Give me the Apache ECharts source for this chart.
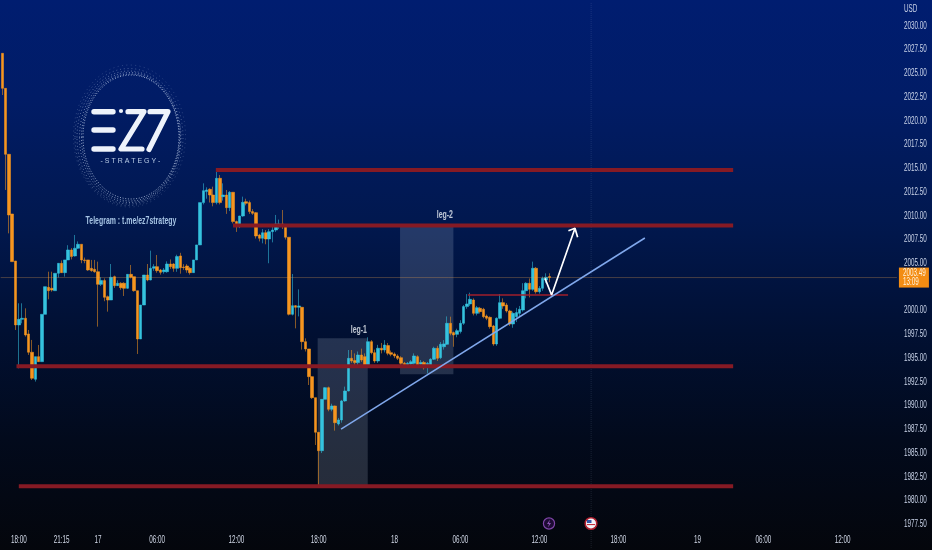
<!DOCTYPE html>
<html><head><meta charset="utf-8">
<style>html,body{margin:0;padding:0;background:#020611}#c{width:932px;height:550px}</style>
<script src="https://cdn.jsdelivr.net/npm/echarts@6/dist/echarts.min.js"></script>
</head><body><div id="c"></div>
<script>
// The reference's labels are horizontally squeezed and no narrow face is installed: condense canvas text.
const rawFillText = CanvasRenderingContext2D.prototype.fillText;
CanvasRenderingContext2D.prototype.fillText = function(t,x,y,m){
  if(String(t).indexOf('S T R')>=0) return rawFillText.call(this,t,x,y,m);
  this.save(); this.translate(x,y); this.scale(0.63,1); rawFillText.call(this,t,0,0); this.restore();
};
// open, close, low, high per 15-minute bar
const candles = [
[2027.12,2023.43,2022.73,2027.12],[2023.43,2016.48,2012.72,2023.43],[2016.48,2010.09,2008.15,2016.48],[2010.19,2005.17,2005.17,2010.19],
[2005.24,1998.50,1997.97,2005.24],[1998.50,1999.09,1993.93,2000.78],[1999.09,1999.20,1998.67,2000.78],[1999.20,1997.44,1997.27,2000.25],
[1997.55,1995.62,1995.34,1997.97],[1995.62,1992.88,1992.70,1996.92],[1992.77,1995.16,1992.53,1995.16],[1995.16,1994.63,1994.63,1996.39],
[1994.63,1999.62,1994.63,1999.62],[1999.62,2002.53,1999.62,2002.53],[2002.46,2002.11,2001.20,2004.11],[2002.36,2002.18,2002.00,2004.11],
[2002.11,2003.94,2002.11,2003.94],[2003.94,2004.99,2003.50,2004.99],[2004.99,2004.01,2004.01,2005.30],[2004.01,2005.35,2003.59,2005.35],
[2005.35,2006.40,2005.35,2006.90],[2006.40,2005.70,2005.40,2006.60],[2005.77,2006.58,2005.70,2007.98],[2006.58,2007.00,2006.50,2007.30],
[2007.00,2005.35,2005.00,2007.00],[2005.35,2005.28,2005.00,2005.60],[2005.35,2004.29,2004.20,2005.35],[2004.46,2004.22,2004.10,2005.35],
[2004.36,2004.11,2004.00,2005.35],[2004.11,2002.78,1998.32,2005.17],[2002.78,2003.17,2002.60,2003.52],[2003.17,2001.41,2001.00,2003.40],
[2001.48,2001.13,1999.90,2001.60],[2001.13,2003.52,2001.13,2004.92],[2003.59,2002.64,2002.40,2003.70],[2002.64,2002.89,2002.60,2003.20],
[2002.89,2002.43,2002.20,2003.00],[2002.89,2002.36,2001.55,2003.00],[2002.36,2003.83,2002.30,2003.83],[2003.83,2003.52,2003.40,2004.82],
[2003.59,2002.11,2002.00,2003.60],[2002.11,1997.02,1995.44,2002.11],[1997.02,2000.60,1997.02,2000.60],[2000.60,2003.76,2000.60,2003.76],
[2003.76,2003.24,2003.10,2004.92],[2003.24,2004.47,2003.20,2006.33],[2004.47,2004.64,2004.20,2004.90],[2004.64,2004.22,2004.00,2005.87],
[2004.29,2004.04,2003.80,2004.40],[2004.11,2004.29,2003.90,2004.50],[2004.11,2004.92,2004.00,2005.20],[2004.92,2004.64,2004.40,2005.40],
[2004.92,2004.46,2004.10,2005.00],[2004.46,2005.70,2004.10,2005.90],[2005.77,2004.53,2003.90,2006.10],[2004.60,2004.55,2004.30,2004.90],
[2004.71,2004.29,2004.00,2004.90],[2004.46,2004.01,2003.80,2004.60],[2004.01,2005.35,2004.00,2005.35],[2005.35,2006.93,2005.35,2006.93],
[2006.93,2011.39,2006.93,2011.39],[2011.39,2012.65,2011.20,2013.42],[2012.55,2012.72,2011.80,2013.00],[2012.79,2012.19,2011.40,2012.90],
[2012.19,2011.39,2011.00,2013.07],[2011.39,2013.95,2011.20,2015.00],[2013.95,2011.39,2011.20,2014.30],[2012.02,2012.19,2011.60,2013.42],
[2012.19,2010.86,2010.20,2012.72],[2010.86,2012.48,2010.50,2012.60],[2012.48,2009.39,2009.20,2012.50],[2009.39,2008.86,2008.30,2009.50],
[2008.86,2009.98,2008.70,2010.00],[2009.98,2011.42,2009.90,2012.02],[2011.49,2011.32,2011.10,2011.80],[2011.39,2010.44,2010.20,2011.60],
[2010.44,2010.26,2010.10,2010.70],[2010.33,2007.87,2007.60,2010.40],[2007.98,2007.63,2007.30,2008.10],[2007.63,2008.22,2007.10,2008.60],
[2008.22,2007.56,2007.00,2008.50],[2007.56,2008.33,2005.00,2008.60],[2008.33,2008.50,2007.20,2009.00],[2008.50,2009.14,2008.30,2010.09],
[2008.96,2009.14,2008.60,2009.60],[2009.14,2008.93,2008.60,2010.61],[2009.03,2007.74,2007.50,2009.10],[2007.74,1999.62,1999.50,2007.74],
[1999.62,2000.53,1999.50,2003.87],[2000.53,2000.36,1998.14,2000.60],[2000.36,2000.50,1999.40,2002.25],[2000.36,1996.74,1995.90,2000.40],
[1996.74,1995.97,1995.70,1997.09],[1995.97,1993.05,1992.17,1995.97],[1993.05,1990.84,1990.70,1993.10],[1990.84,1987.19,1985.85,1990.84],
[1987.19,1985.25,1981.46,1987.19],[1985.25,1990.66,1985.00,1990.66],[1990.66,1991.89,1990.66,1991.95],[1991.89,1989.61,1989.40,1992.00],
[1989.61,1989.96,1989.40,1990.20],[1989.96,1988.20,1987.36,1990.00],[1988.06,1988.49,1987.90,1988.70],[1988.49,1990.49,1988.20,1990.60],
[1990.49,1991.54,1990.40,1992.00],[1991.54,1994.98,1991.50,1995.86],[1994.98,1994.70,1994.50,1995.86],[1994.74,1994.53,1994.30,1995.50],
[1994.53,1995.33,1994.10,1995.70],[1995.33,1994.81,1994.60,1996.00],[1995.16,1994.22,1994.00,1995.50],[1994.22,1996.74,1994.00,1997.20],
[1996.74,1995.58,1995.40,1996.90],[1995.58,1994.70,1994.50,1995.90],[1994.70,1996.04,1994.50,1996.40],[1996.04,1995.86,1995.50,1996.60],
[1995.86,1996.39,1995.60,1996.90],[1996.32,1995.51,1995.30,1996.60],[1995.58,1995.40,1995.20,1995.80],[1995.44,1995.23,1995.00,1995.60],
[1995.23,1994.98,1994.80,1995.40],[1995.05,1994.46,1994.20,1995.20],[1994.46,1994.22,1994.00,1994.60],[1994.22,1994.46,1994.10,1994.60],
[1994.39,1994.63,1994.20,1994.80],[1994.46,1995.23,1994.30,1995.50],[1995.16,1994.28,1994.10,1995.30],[1994.37,1994.55,1994.10,1994.80],
[1994.53,1994.00,1993.80,1994.70],[1994.00,1994.46,1993.40,1994.60],[1994.28,1994.88,1994.00,1995.00],[1994.88,1996.04,1994.80,1996.20],
[1996.04,1994.98,1994.70,1996.30],[1995.05,1996.46,1994.90,1996.70],[1996.20,1996.50,1995.90,1996.90],[1996.46,1998.67,1996.40,1999.40],
[1998.67,1997.62,1997.40,1999.37],[1997.69,1997.44,1996.20,1997.80],[1997.51,1997.90,1997.20,1998.10],[1997.80,1998.67,1997.60,1999.00],
[1998.67,2000.43,1998.50,2000.60],[2000.43,2000.71,2000.20,2001.75],[2000.71,2001.20,2000.50,2001.90],[2001.13,1999.72,1999.50,2001.30],
[1999.72,2000.32,1999.50,2000.50],[2000.25,1999.90,1999.70,2000.40],[2000.15,1999.37,1999.20,2000.30],[1999.44,1999.20,1999.00,1999.60],
[1999.30,1998.32,1998.10,1999.40],[1998.39,1996.49,1996.30,1998.50],[1996.49,1999.20,1996.30,1999.30],[1999.20,2000.85,1999.10,2001.75],
[2000.85,2000.50,2000.20,2001.30],[2000.60,1999.97,1999.80,2000.80],[1999.97,1998.60,1998.40,2000.10],[1998.60,1999.72,1998.20,1999.90],
[1999.37,1999.80,1998.80,2000.30],[1999.72,2000.15,1999.30,2000.50],[2000.07,2002.11,1999.90,2002.90],[2002.11,2002.89,2001.30,2003.00],
[2002.89,2002.25,2001.40,2003.40],[2002.25,2004.47,2002.10,2005.17],[2004.47,2002.00,2001.80,2004.60],[2002.00,2002.36,2001.80,2002.60],
[2002.36,2003.41,2002.10,2003.60],[2003.23,2003.52,2002.90,2003.94],[2003.60,2003.49,2003.00,2003.94]
];
const slotCount = 272;
const timeLabels = [[5,'18:00'],[18,'21:15'],[29,'17'],[47,'06:00'],[71,'12:00'],[96,'18:00'],[119,'18'],[139,'06:00'],[163,'12:00'],[187,'18:00'],[211,'19'],[231,'06:00'],[255,'12:00']];
const lastPrice = 2003.49;
const countdown = '13:09';
const coveredTick = 2002.5; // hidden behind the price tag in the reference
// support/resistance: from bar, to bar, price
const levels = [[64.8,221.8,2014.83],[70,221.8,2008.98],[4.3,221.8,1994.14],[5,221.8,1981.5]];
const minorLevel = [[141.3,2001.65],[171.7,2001.65]];
const trendLine = [[102.8,1987.53],[195,2007.66]];
const arrowPath = [[164.7,2003.41],[166.7,2001.65],[173.8,2008.68],[171.8,2008.43],[173.8,2008.68],[174.6,2007.73]];
const legBoxes = [[95.7,1997.09,110.9,1981.5],[120.7,2009,136.9,1993.3]];
const legLabels = [['leg-1',108.2,1997.97],['leg-2',134.3,2010.08]];
const eventBar = 178.7;

const cats = Array.from({length:slotCount},(_,i)=>{const t=timeLabels.find(a=>a[0]===i);return t?t[1]:'';});
const font='"Liberation Sans",sans-serif';
const overlayBase={type:'line',xAxisIndex:1,yAxisIndex:0,symbol:'none',silent:true,animation:false};

const series=[
 {type:'candlestick',xAxisIndex:0,yAxisIndex:0,z:2,barWidth:3,data:candles,
  itemStyle:{color:'#35c3de',color0:'#f6951f',borderColor:'rgba(53,195,222,.55)',borderColor0:'rgba(246,149,31,.55)',borderWidth:1}},
 {...overlayBase,z:3,data:[],markArea:{silent:true,itemStyle:{color:'rgba(215,225,245,.17)'},
   data:legBoxes.map(b=>[{coord:[b[0],b[1]]},{coord:[b[2],b[3]]}])}},
 ...levels.map(l=>({...overlayBase,z:4,data:[[l[0],l[2]],[l[1],l[2]]],lineStyle:{color:'#861a24',width:4}})),
 {...overlayBase,z:4,data:minorLevel,lineStyle:{color:'#a11f2b',width:1.6}},
 {...overlayBase,z:5,data:trendLine,lineStyle:{color:'#80a8ec',width:1.5}},
 {...overlayBase,z:6,data:arrowPath,lineStyle:{color:'#ffffff',width:1.7}},
 {...overlayBase,z:1,data:[[eventBar,1975],[eventBar,2032.5]],lineStyle:{color:'rgba(200,210,230,.13)',width:1,type:'dotted'}},
 {...overlayBase,z:4,data:[[-0.5,lastPrice],[slotCount-0.5,lastPrice]],lineStyle:{color:'rgba(240,165,80,.3)',width:1},
  endLabel:{show:true,distance:2,formatter:()=>lastPrice.toFixed(2)+'\n'+countdown,backgroundColor:'#f38c13',color:'#fff2dd',
   fontFamily:font,fontSize:10,lineHeight:9.5,padding:[1,3,0,4],align:'left',width:23,height:19}},
 {type:'scatter',xAxisIndex:1,yAxisIndex:0,symbolSize:0,z:7,silent:true,animation:false,
  data:legLabels.map(l=>({name:l[0],value:[l[1],l[2]]})),
  label:{show:true,position:'inside',formatter:'{b}',color:'#eef2f8',fontSize:11,fontWeight:'bold',fontFamily:font}}
];

const ring=(rx,ry,dx,dy,op,dash)=>({type:'ellipse',silent:true,z:1,shape:{cx:130+dx,cy:136+dy,rx,ry},
  style:{fill:null,stroke:'#cddcf2',lineWidth:1,lineDash:dash,opacity:op}});
const bar=(x1,y1,x2,y2)=>({type:'line',silent:true,z:1,shape:{x1,y1,x2,y2},style:{stroke:'#eef3fb',lineWidth:5.4,lineCap:'round'}});
const poly=(points)=>({type:'polyline',silent:true,z:1,shape:{points},style:{fill:null,stroke:'#eef3fb',lineWidth:5.2,lineCap:'round',lineJoin:'round'}});
const graphic=[
 ring(48,62,1,1,.7,[1,1.7]),ring(49,63.5,.5,1.5,.62,[1,1.9]),ring(50.5,65,0,1.5,.5,[1,2.1]),ring(52,66.5,-1,1.5,.42,[1,2.4]),ring(54,68.5,-1,1,.32,[1,2.8]),ring(56,71,-.5,0,.2,[1,3.4]),
 bar(94,111.7,113,111.7),bar(94,130,113,130),bar(94,149,113,149),
 {type:'circle',silent:true,z:1,shape:{cx:121,cy:111,r:2.1},style:{fill:'#eef3fb'}},
 poly([[128,111.7],[144,111.7],[121,149],[142,149]]),
 poly([[150,111.7],[168,111.7],[149,149.5]]),
 {type:'text',silent:true,z:1,x:130.5,y:161,style:{text:'- S T R A T E G Y -',fill:'#b9cce6',font:'7px "Liberation Sans",sans-serif',align:'center',verticalAlign:'middle'}},
 {type:'text',silent:true,z:1,x:131,y:221,style:{text:'Telegram : t.me/ez7strategy',fill:'#a6c4e4',font:'bold 11px '+font,align:'center',verticalAlign:'middle'}},
 {type:'text',silent:true,z:8,x:904,y:9,style:{text:'USD',fill:'#c9d3e8',font:'10px '+font,align:'left',verticalAlign:'middle'}},
 // calendar event markers
 {type:'circle',silent:true,z:8,shape:{cx:549,cy:523.5,r:5.6},style:{fill:'#1d0b33',stroke:'#7f45a8',lineWidth:1.2}},
 {type:'polygon',silent:true,z:9,shape:{points:[[550,519.5],[547,524],[549,524],[548,527.5],[551,523],[549,523]]},style:{fill:'#8d55b5'}},
 {type:'circle',silent:true,z:8,shape:{cx:591,cy:523.5,r:5.8},style:{fill:'#f3f5fa',stroke:'#b0202f',lineWidth:1.6}},
 {type:'rect',silent:true,z:9,shape:{x:587,y:520,width:4.5,height:3},style:{fill:'#3257a8'}},
 {type:'rect',silent:true,z:9,shape:{x:587,y:524,width:8,height:1.1},style:{fill:'#c8303c'}}
];

const chart=echarts.init(document.getElementById('c'),null,{renderer:'canvas',width:932,height:550});
chart.setOption({
 animation:false,
 backgroundColor:{type:'linear',x:0,y:0,x2:0,y2:1,colorStops:[
   {offset:0,color:'#001d70'},{offset:.18,color:'#011c66'},{offset:.4,color:'#01184f'},{offset:.6,color:'#011033'},{offset:.8,color:'#020a1c'},{offset:1,color:'#04060c'}]},
 grid:{left:0.68,width:896.24,top:2.27,height:545.68,containLabel:false,outerBoundsMode:'none'},
 xAxis:[
  {type:'category',data:cats,boundaryGap:true,position:'bottom',axisLine:{show:false},axisTick:{show:false},splitLine:{show:false},
   axisLabel:{inside:true,margin:3,color:'#d2d9e8',fontSize:10,fontFamily:font,interval:(i,v)=>v!=='',hideOverlap:false}},
  {type:'value',min:-0.5,max:slotCount-0.5,show:false,splitLine:{show:false}}
 ],
 yAxis:[{type:'value',position:'right',min:1975,max:2032.5,interval:2.5,scale:true,
   axisLine:{show:false},axisTick:{show:false},splitLine:{show:false},
   axisLabel:{showMinLabel:false,showMaxLabel:false,margin:7,color:'#c9d3e8',fontSize:10,fontFamily:font,formatter:v=>v===coveredTick?'':v.toFixed(2)}}],
 graphic,
 series
});
</script></body></html>
